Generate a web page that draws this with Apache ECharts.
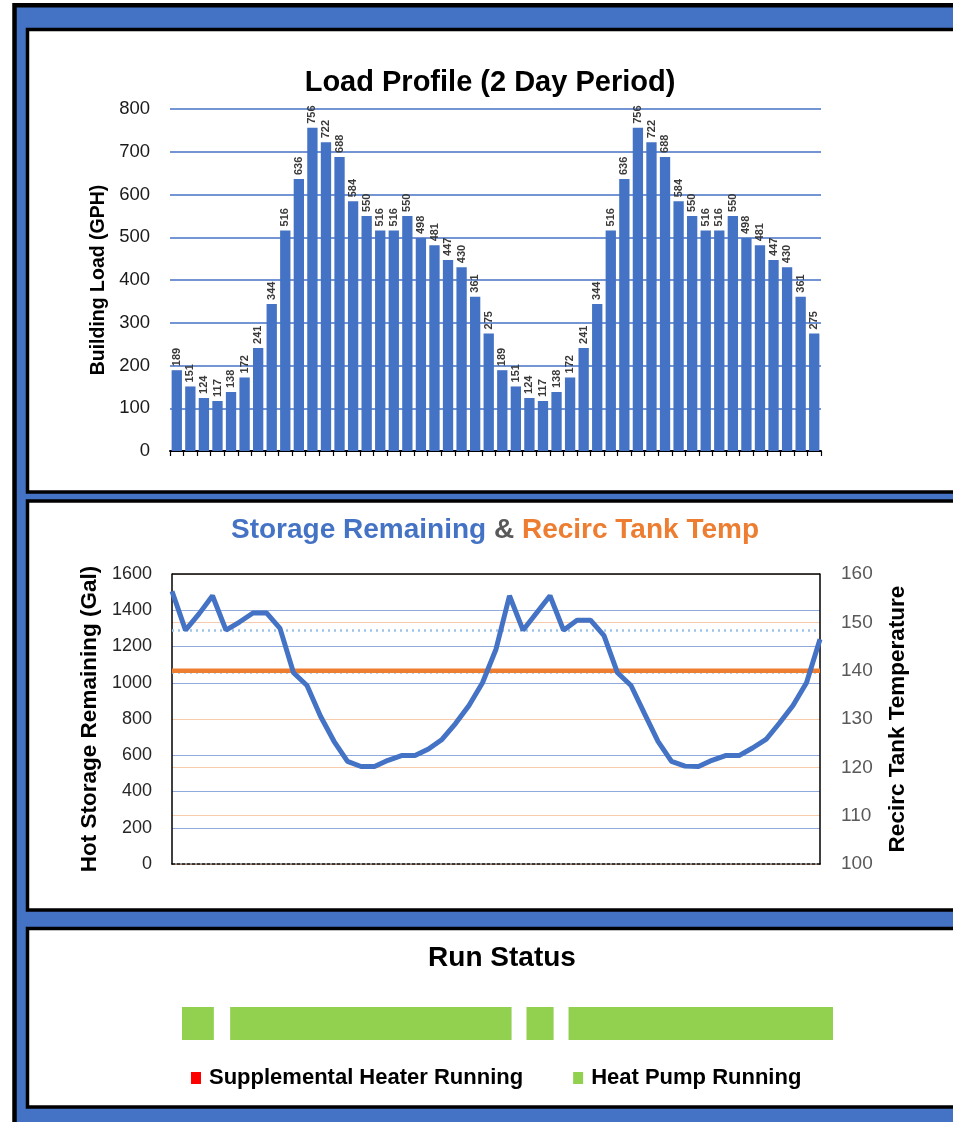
<!DOCTYPE html>
<html>
<head>
<meta charset="utf-8">
<script src="https://cdn.jsdelivr.net/npm/echarts@6/dist/echarts.min.js"></script>
<style>
html,body{margin:0;padding:0;background:#fff;}
#c{width:953px;height:1122px;}
</style>
</head>
<body>
<div id="c"></div>
<script>
// ---------- data ----------
const loadHours = ['1','2','3','4','5','6','7','8','9','10','11','12','13','14','15','16','17','18','19','20','21','22','23','24',
  '25','26','27','28','29','30','31','32','33','34','35','36','37','38','39','40','41','42','43','44','45','46','47','48'];
const loadDayOne = [189,151,124,117,138,172,241,344,516,636,756,722,688,584,550,516,516,550,498,481,447,430,361,275];
const loadDayTwo = [189,151,124,117,138,172,241,344,516,636,756,722,688,584,550,516,516,550,498,481,447,430,361,275];
const loadTicks = [0,100,200,300,400,500,600,700,800];

const storageHours = ['0','1','2','3','4','5','6','7','8','9','10','11','12','13','14','15','16','17','18','19','20','21','22','23','24',
  '25','26','27','28','29','30','31','32','33','34','35','36','37','38','39','40','41','42','43','44','45','46','47','48'];
const storageRemaining = [1505,1290,1380,1480,1290,1335,1385,1385,1300,1055,985,815,677,566,538,538,572,598,598,634,687,775,875,1000,1185,
  1480,1290,1385,1480,1290,1345,1345,1260,1055,985,830,677,566,540,538,572,598,598,640,687,778,875,1000,1240];
const recircTemp = [140,140,140,140,140,140,140,140,140,140,140,140,140,140,140,140,140,140,140,140,140,140,140,140,140,
  140,140,140,140,140,140,140,140,140,140,140,140,140,140,140,140,140,140,140,140,140,140,140,140];
const storageThresholds = [1290, 1057];
const storageTicks = [0,200,400,600,800,1000,1200,1400,1600];
const tempTicks = [100,110,120,130,140,150,160];

const heatPumpStart = [0, 3.55, 25.4, 28.5];
const heatPumpEnd   = [2.35, 24.3, 27.4, 48];

// ---------- chart ----------
const FONT = 'Liberation Sans, Arial, sans-serif';
const loadAll = loadDayOne.concat(loadDayTwo);
const runData = heatPumpStart.map((s, i) => [s, heatPumpEnd[i], 0]);
const plain = v => String(v);

const chart = echarts.init(document.getElementById('c'), null, {renderer: 'canvas'});

const option = {
  animation: false,
  backgroundColor: '#ffffff',
  textStyle: {fontFamily: FONT},
  graphic: [
    {type: 'rect', z: -10, silent: true, shape: {x: 14.5, y: 5.2, width: 1000, height: 1200},
      style: {fill: '#4472C4', stroke: '#000', lineWidth: 4.5}},
    {type: 'rect', z: -9, silent: true, shape: {x: 27.5, y: 29.5, width: 1000, height: 462.5},
      style: {fill: '#fff', stroke: '#000', lineWidth: 3.5}},
    {type: 'rect', z: -9, silent: true, shape: {x: 27.5, y: 501, width: 1000, height: 409},
      style: {fill: '#fff', stroke: '#000', lineWidth: 3.5}},
    {type: 'rect', z: -9, silent: true, shape: {x: 27.5, y: 928.5, width: 1000, height: 178.5},
      style: {fill: '#fff', stroke: '#000', lineWidth: 3.5}}
  ],
  title: [
    {text: 'Load Profile (2 Day Period)', left: 485, top: 63, textAlign: 'center',
      textStyle: {fontFamily: FONT, fontSize: 29, fontWeight: 'bold', color: '#000'}},
    {text: '{a|Storage Remaining} {b|&} {c|Recirc Tank Temp}', left: 490, top: 511, textAlign: 'center',
      textStyle: {fontFamily: FONT, fontSize: 28, fontWeight: 'bold',
        rich: {
          a: {color: '#4472C4', fontSize: 28, fontWeight: 'bold', fontFamily: FONT},
          b: {color: '#595959', fontSize: 28, fontWeight: 'bold', fontFamily: FONT},
          c: {color: '#ED7D31', fontSize: 28, fontWeight: 'bold', fontFamily: FONT}
        }}},
    {text: 'Run Status', left: 497, top: 939, textAlign: 'center',
      textStyle: {fontFamily: FONT, fontSize: 28, fontWeight: 'bold', color: '#000'}}
  ],
  legend: {
    data: ['Supplemental Heater Running', 'Heat Pump Running'],
    left: 191, top: 1067, padding: 0, icon: 'rect', itemWidth: 10, itemHeight: 12, itemGap: 50,
    textStyle: {fontFamily: FONT, fontSize: 22, fontWeight: 'bold', color: '#000', padding: [0, 0, 0, 3]}
  },
  grid: [
    {left: 170, right: 132, top: 109, bottom: 671, containLabel: false},
    {left: 172, right: 133, top: 574, bottom: 258, containLabel: false},
    {left: 182, right: 120, top: 1007, height: 33, containLabel: false}
  ],
  xAxis: [
    {type: 'category', gridIndex: 0, data: loadHours, boundaryGap: true,
      axisLine: {show: true, lineStyle: {color: '#000', width: 2}},
      axisTick: {show: true, interval: 0, length: 5, lineStyle: {color: '#000', width: 1.2}},
      axisLabel: {show: false}, splitLine: {show: false}},
    {type: 'category', gridIndex: 1, data: storageHours, boundaryGap: false,
      axisLine: {show: true, onZero: false, lineStyle: {color: '#000', width: 1.5, type: [3, 2]}},
      axisTick: {show: false}, axisLabel: {show: false}, splitLine: {show: false}},
    {type: 'value', gridIndex: 2, min: 0, max: 48, show: false}
  ],
  yAxis: [
    {type: 'value', gridIndex: 0, min: loadTicks[0], max: loadTicks[loadTicks.length - 1], interval: 100,
      name: 'Building Load (GPH)', nameLocation: 'middle', nameGap: 58, nameRotate: 90,
      nameTextStyle: {fontFamily: FONT, fontSize: 19.5, fontWeight: 'bold', color: '#000'},
      axisLine: {show: false}, axisTick: {show: false},
      axisLabel: {margin: 20, fontFamily: FONT, fontSize: 18.5, color: '#1a1a1a', formatter: plain},
      splitLine: {show: true, lineStyle: {color: '#4472C4', width: 1.6}}},
    {type: 'value', gridIndex: 1, min: storageTicks[0], max: storageTicks[storageTicks.length - 1], interval: 200,
      name: 'Hot Storage Remaining (Gal)', nameLocation: 'middle', nameGap: 69, nameRotate: 90,
      nameTextStyle: {fontFamily: FONT, fontSize: 22.5, fontWeight: 'bold', color: '#000'},
      axisLine: {show: true, lineStyle: {color: '#000', width: 1.5}}, axisTick: {show: false},
      axisLabel: {margin: 20, fontFamily: FONT, fontSize: 18, color: '#262626', formatter: plain},
      splitLine: {show: true, lineStyle: {color: '#8FAADC', width: 1}}},
    {type: 'value', gridIndex: 1, position: 'right', min: tempTicks[0], max: tempTicks[tempTicks.length - 1], interval: 10,
      name: 'Recirc Tank Temperature', nameLocation: 'middle', nameGap: 66, nameRotate: 90,
      nameTextStyle: {fontFamily: FONT, fontSize: 22.5, fontWeight: 'bold', color: '#000'},
      axisLine: {show: true, lineStyle: {color: '#000', width: 1.5}}, axisTick: {show: false},
      axisLabel: {margin: 21, fontFamily: FONT, fontSize: 19, color: '#595959', formatter: plain},
      splitLine: {show: true, lineStyle: {color: '#F8CBAD', width: 1}}},
    {type: 'category', gridIndex: 2, data: ['Run'], show: false}
  ],
  series: [
    {name: 'Load', type: 'bar', xAxisIndex: 0, yAxisIndex: 0, data: loadAll, barCategoryGap: '24%',
      itemStyle: {color: '#4472C4'},
      label: {show: true, position: 'top', rotate: 90, align: 'left', verticalAlign: 'middle', distance: 4,
        fontFamily: FONT, fontSize: 11, fontWeight: 'bold', color: '#3a3a3a'}},
    {name: 'Recirc Tank Temp', type: 'line', xAxisIndex: 1, yAxisIndex: 2, data: recircTemp, symbol: 'none',
      z: 3, lineStyle: {color: '#ED7D31', width: 4.5}, itemStyle: {color: '#ED7D31'}},
    {name: 'Storage Remaining', type: 'line', xAxisIndex: 1, yAxisIndex: 1, data: storageRemaining, symbol: 'none',
      z: 4, lineStyle: {color: '#4472C4', width: 5}, itemStyle: {color: '#4472C4'},
      markLine: {silent: true, symbol: 'none', label: {show: false}, z: 2,
        data: storageThresholds.map(v => ({yAxis: v, lineStyle: {color: '#9DC3E6', width: 2.5, type: [2, 4]}}))
          .concat([{yAxis: storageTicks[storageTicks.length - 1], lineStyle: {color: '#000', width: 1.5, type: 'solid'}}])}},
    {name: 'Supplemental Heater Running', type: 'custom', xAxisIndex: 2, yAxisIndex: 3, data: [],
      itemStyle: {color: '#FF0000'}, renderItem: () => null},
    {name: 'Heat Pump Running', type: 'custom', xAxisIndex: 2, yAxisIndex: 3, data: runData,
      itemStyle: {color: '#92D050'}, encode: {x: [0, 1], y: 2},
      renderItem: function (params, api) {
        const s = api.coord([api.value(0), api.value(2)]);
        const e = api.coord([api.value(1), api.value(2)]);
        const h = api.size([0, 1])[1];
        return {type: 'rect', shape: {x: s[0], y: s[1] - h / 2, width: e[0] - s[0], height: h},
          style: {fill: '#92D050'}};
      }}
  ]
};
chart.setOption(option);
</script>
</body>
</html>
